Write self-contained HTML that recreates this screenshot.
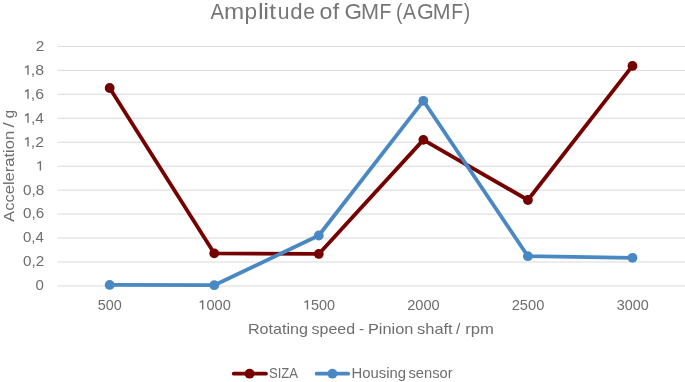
<!DOCTYPE html>
<html><head><meta charset="utf-8"><title>Amplitude of GMF (AGMF)</title><style>
html,body{margin:0;padding:0;background:#fff;width:685px;height:382px;overflow:hidden}
svg{display:block;will-change:transform}
text{font-family:"Liberation Sans",sans-serif;fill:#6e6e6e}
</style></head><body>
<svg width="685" height="382" viewBox="0 0 685 382">
<rect width="685" height="382" fill="#fff"/>
<line x1="57.4" x2="685" y1="285.95" y2="285.95" stroke="#D9D9D9" stroke-width="1"/>
<line x1="57.4" x2="685" y1="262.00" y2="262.00" stroke="#D9D9D9" stroke-width="1"/>
<line x1="57.4" x2="685" y1="238.04" y2="238.04" stroke="#D9D9D9" stroke-width="1"/>
<line x1="57.4" x2="685" y1="214.08" y2="214.08" stroke="#D9D9D9" stroke-width="1"/>
<line x1="57.4" x2="685" y1="190.13" y2="190.13" stroke="#D9D9D9" stroke-width="1"/>
<line x1="57.4" x2="685" y1="166.18" y2="166.18" stroke="#D9D9D9" stroke-width="1"/>
<line x1="57.4" x2="685" y1="142.22" y2="142.22" stroke="#D9D9D9" stroke-width="1"/>
<line x1="57.4" x2="685" y1="118.26" y2="118.26" stroke="#D9D9D9" stroke-width="1"/>
<line x1="57.4" x2="685" y1="94.31" y2="94.31" stroke="#D9D9D9" stroke-width="1"/>
<line x1="57.4" x2="685" y1="70.36" y2="70.36" stroke="#D9D9D9" stroke-width="1"/>
<line x1="57.4" x2="685" y1="46.40" y2="46.40" stroke="#D9D9D9" stroke-width="1"/>
<text x="210.60" y="18.90" font-size="21.5" textLength="13.49" lengthAdjust="spacingAndGlyphs" style="fill:#767676">A</text>
<text x="224.11" y="18.90" font-size="21.5" textLength="20.19" lengthAdjust="spacingAndGlyphs" style="fill:#767676">m</text>
<text x="244.52" y="18.90" font-size="21.5" textLength="12.60" lengthAdjust="spacingAndGlyphs" style="fill:#767676">p</text>
<text x="257.95" y="18.90" font-size="21.5" textLength="5.74" lengthAdjust="spacingAndGlyphs" style="fill:#767676">l</text>
<text x="263.25" y="18.90" font-size="21.5" textLength="5.74" lengthAdjust="spacingAndGlyphs" style="fill:#767676">i</text>
<text x="269.22" y="18.90" font-size="21.5" textLength="6.75" lengthAdjust="spacingAndGlyphs" style="fill:#767676">t</text>
<text x="277.83" y="18.90" font-size="21.5" textLength="11.70" lengthAdjust="spacingAndGlyphs" style="fill:#767676">u</text>
<text x="290.37" y="18.90" font-size="21.5" textLength="12.35" lengthAdjust="spacingAndGlyphs" style="fill:#767676">d</text>
<text x="303.22" y="18.90" font-size="21.5" textLength="11.73" lengthAdjust="spacingAndGlyphs" style="fill:#767676">e</text>
<text x="319.52" y="18.90" font-size="21.5" textLength="12.93" lengthAdjust="spacingAndGlyphs" style="fill:#767676">o</text>
<text x="332.73" y="18.90" font-size="21.5" textLength="6.45" lengthAdjust="spacingAndGlyphs" style="fill:#767676">f</text>
<text x="344.51" y="18.90" font-size="21.5" textLength="17.45" lengthAdjust="spacingAndGlyphs" style="fill:#767676">G</text>
<text x="360.94" y="18.90" font-size="21.5" textLength="18.05" lengthAdjust="spacingAndGlyphs" style="fill:#767676">M</text>
<text x="379.62" y="18.90" font-size="21.5" textLength="11.89" lengthAdjust="spacingAndGlyphs" style="fill:#767676">F</text>
<text x="396.09" y="18.90" font-size="21.5" textLength="6.45" lengthAdjust="spacingAndGlyphs" style="fill:#767676">(</text>
<text x="403.10" y="18.90" font-size="21.5" textLength="12.99" lengthAdjust="spacingAndGlyphs" style="fill:#767676">A</text>
<text x="417.00" y="18.90" font-size="21.5" textLength="16.73" lengthAdjust="spacingAndGlyphs" style="fill:#767676">G</text>
<text x="432.86" y="18.90" font-size="21.5" textLength="17.80" lengthAdjust="spacingAndGlyphs" style="fill:#767676">M</text>
<text x="451.25" y="18.90" font-size="21.5" textLength="11.83" lengthAdjust="spacingAndGlyphs" style="fill:#767676">F</text>
<text x="463.85" y="18.90" font-size="21.5" textLength="6.45" lengthAdjust="spacingAndGlyphs" style="fill:#767676">)</text>
<text x="247.97" y="333.80" font-size="14.1" textLength="60.07" lengthAdjust="spacingAndGlyphs">Rotating</text>
<text x="311.63" y="333.80" font-size="14.1" textLength="43.49" lengthAdjust="spacingAndGlyphs">speed</text>
<text x="359.09" y="333.80" font-size="14.1" textLength="5.06" lengthAdjust="spacingAndGlyphs">-</text>
<text x="367.95" y="333.80" font-size="14.1" textLength="45.44" lengthAdjust="spacingAndGlyphs">Pinion</text>
<text x="417.02" y="333.80" font-size="14.1" textLength="35.66" lengthAdjust="spacingAndGlyphs">shaft</text>
<text x="455.90" y="333.80" font-size="14.1" textLength="4.29" lengthAdjust="spacingAndGlyphs">/</text>
<text x="465.22" y="333.80" font-size="14.1" textLength="28.70" lengthAdjust="spacingAndGlyphs">rpm</text>
<text x="268.90" y="377.70" font-size="14.1" textLength="29.17" lengthAdjust="spacingAndGlyphs">SIZA</text>
<text x="351.48" y="377.70" font-size="14.1" textLength="54.54" lengthAdjust="spacingAndGlyphs">Housing</text>
<text x="408.48" y="377.70" font-size="14.1" textLength="44.25" lengthAdjust="spacingAndGlyphs">sensor</text>
<text x="97.73" y="309.60" font-size="14.0" textLength="24.00" lengthAdjust="spacingAndGlyphs">500</text>
<text x="206.48" y="309.60" font-size="14.0" textLength="24.25" lengthAdjust="spacingAndGlyphs">000</text>
<text x="310.93" y="309.60" font-size="14.0" textLength="24.10" lengthAdjust="spacingAndGlyphs">500</text>
<text x="407.22" y="309.60" font-size="14.0" textLength="32.52" lengthAdjust="spacingAndGlyphs">2000</text>
<text x="511.71" y="309.60" font-size="14.0" textLength="32.67" lengthAdjust="spacingAndGlyphs">2500</text>
<text x="616.79" y="309.60" font-size="14.0" textLength="31.99" lengthAdjust="spacingAndGlyphs">3000</text>
<text x="35.56" y="290.35" font-size="14.0" textLength="8.37" lengthAdjust="spacingAndGlyphs">0</text>
<text x="22.96" y="266.39" font-size="14.0" textLength="21.18" lengthAdjust="spacingAndGlyphs">0,2</text>
<text x="22.96" y="242.44" font-size="14.0" textLength="20.89" lengthAdjust="spacingAndGlyphs">0,4</text>
<text x="22.96" y="218.48" font-size="14.0" textLength="21.18" lengthAdjust="spacingAndGlyphs">0,6</text>
<text x="22.96" y="194.53" font-size="14.0" textLength="21.18" lengthAdjust="spacingAndGlyphs">0,8</text>
<text x="30.88" y="146.62" font-size="14.0" textLength="13.25" lengthAdjust="spacingAndGlyphs">,2</text>
<text x="30.92" y="122.66" font-size="14.0" textLength="12.92" lengthAdjust="spacingAndGlyphs">,4</text>
<text x="30.88" y="98.71" font-size="14.0" textLength="13.25" lengthAdjust="spacingAndGlyphs">,6</text>
<text x="30.88" y="74.76" font-size="14.0" textLength="13.25" lengthAdjust="spacingAndGlyphs">,8</text>
<text x="35.68" y="50.80" font-size="14.0" textLength="8.55" lengthAdjust="spacingAndGlyphs">2</text>
<text transform="translate(13.80,221.90) rotate(-90)" x="0" y="0" font-size="14.1" textLength="91.05" lengthAdjust="spacingAndGlyphs">Acceleration</text>
<text transform="translate(13.80,127.40) rotate(-90)" x="0" y="0" font-size="14.1" textLength="5.33" lengthAdjust="spacingAndGlyphs">/</text>
<text transform="translate(13.80,118.22) rotate(-90)" x="0" y="0" font-size="14.1" textLength="8.21" lengthAdjust="spacingAndGlyphs">g</text>
<path d="M202.70 300.20V309.60M203.00 300.55L199.70 302.50" fill="none" stroke="#6e6e6e" stroke-width="1.35"/>
<path d="M307.45 300.20V309.60M307.75 300.55L304.45 302.50" fill="none" stroke="#6e6e6e" stroke-width="1.35"/>
<path d="M40.40 161.18V170.58M40.70 161.53L37.40 163.48" fill="none" stroke="#6e6e6e" stroke-width="1.35"/>
<path d="M28.00 137.22V146.62M28.30 137.57L25.00 139.52" fill="none" stroke="#6e6e6e" stroke-width="1.35"/>
<path d="M28.00 113.26V122.66M28.30 113.61L25.00 115.56" fill="none" stroke="#6e6e6e" stroke-width="1.35"/>
<path d="M28.00 89.31V98.71M28.30 89.66L25.00 91.61" fill="none" stroke="#6e6e6e" stroke-width="1.35"/>
<path d="M28.00 65.36V74.76M28.30 65.71L25.00 67.66" fill="none" stroke="#6e6e6e" stroke-width="1.35"/>
<polyline points="109.67,88.00 214.23,253.35 318.79,253.95 423.35,139.85 527.91,200.00 632.47,65.95" fill="none" stroke="#750000" stroke-width="3.8" stroke-linejoin="round" stroke-linecap="round"/><circle cx="109.67" cy="88.00" r="4.9" fill="#750000"/><circle cx="214.23" cy="253.35" r="4.9" fill="#750000"/><circle cx="318.79" cy="253.95" r="4.9" fill="#750000"/><circle cx="423.35" cy="139.85" r="4.9" fill="#750000"/><circle cx="527.91" cy="200.00" r="4.9" fill="#750000"/><circle cx="632.47" cy="65.95" r="4.9" fill="#750000"/>
<polyline points="109.67,284.95 214.23,285.20 318.79,235.50 423.35,100.80 527.91,256.20 632.47,257.80" fill="none" stroke="#4A88C4" stroke-width="3.8" stroke-linejoin="round" stroke-linecap="round"/><circle cx="109.67" cy="284.95" r="4.9" fill="#4A88C4"/><circle cx="214.23" cy="285.20" r="4.9" fill="#4A88C4"/><circle cx="318.79" cy="235.50" r="4.9" fill="#4A88C4"/><circle cx="423.35" cy="100.80" r="4.9" fill="#4A88C4"/><circle cx="527.91" cy="256.20" r="4.9" fill="#4A88C4"/><circle cx="632.47" cy="257.80" r="4.9" fill="#4A88C4"/>
<line x1="233.75" x2="265.95" y1="373.7" y2="373.7" stroke="#750000" stroke-width="3.8" stroke-linecap="round"/><circle cx="249.6" cy="373.7" r="4.9" fill="#750000"/>
<line x1="316.60" x2="348.20" y1="373.7" y2="373.7" stroke="#4A88C4" stroke-width="3.8" stroke-linecap="round"/><circle cx="332.4" cy="373.7" r="4.9" fill="#4A88C4"/>
</svg>
</body></html>
